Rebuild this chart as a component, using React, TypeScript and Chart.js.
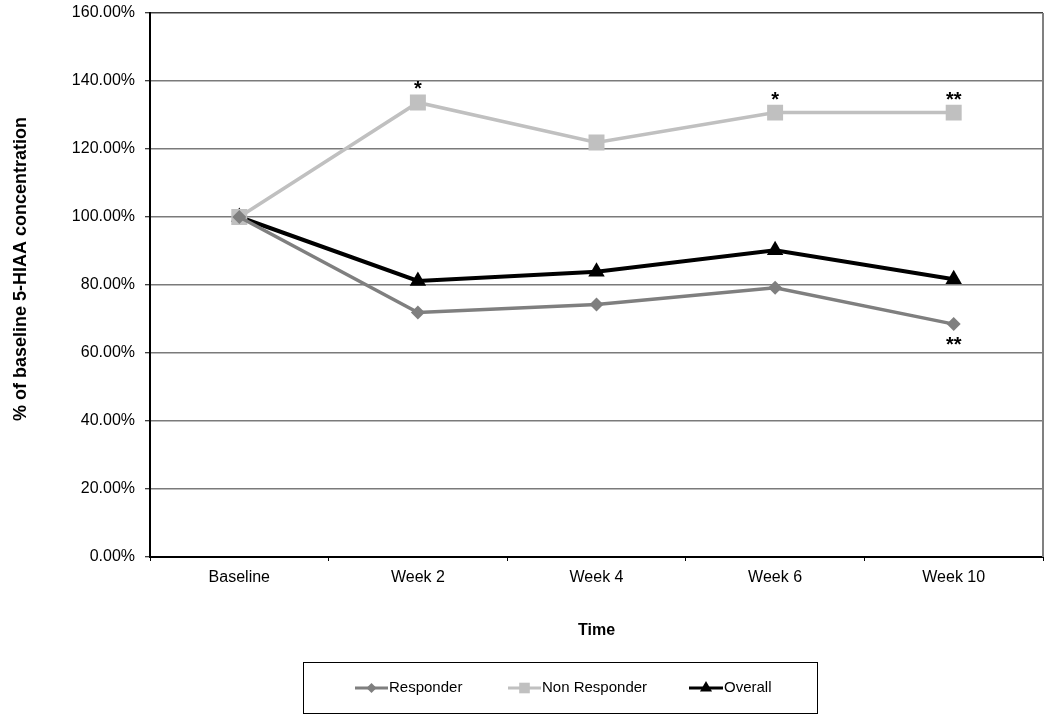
import React, { useEffect, useRef } from "react";
import { Chart, registerables } from "chart.js";

Chart.register(...registerables);

const categories = ["Baseline", "Week 2", "Week 4", "Week 6", "Week 10"];
const responder = [100, 71.9, 74.3, 79.2, 68.5];
const nonResponder = [100, 133.7, 121.9, 130.7, 130.7];
const overall = [100, 81.2, 83.9, 90.2, 81.7];
const yTicks = [0, 20, 40, 60, 80, 100, 120, 140, 160];

// significance markers: dataset index, point index, text, above/below
const starDataset = [1, 1, 1, 0];
const starIndex = [1, 3, 4, 4];
const starText = ["*", "*", "**", "**"];
const starAbove = [true, true, true, false];

const yTitle = "% of baseline 5-HIAA concentration";
const xTitle = "Time";

const FONT = "'Liberation Sans', Arial, sans-serif";

function drawMarker(ctx: CanvasRenderingContext2D, style: string, x: number, y: number, r: number) {
  ctx.beginPath();
  if (style === "rect") {
    const s = Math.SQRT1_2 * r;
    ctx.rect(x - s, y - s, 2 * s, 2 * s);
  } else if (style === "rectRot") {
    ctx.moveTo(x, y - r);
    ctx.lineTo(x + r, y);
    ctx.lineTo(x, y + r);
    ctx.lineTo(x - r, y);
    ctx.closePath();
  } else {
    const a = (Math.PI * 2) / 3;
    ctx.moveTo(x, y - r);
    ctx.lineTo(x + Math.sin(a) * r, y - Math.cos(a) * r);
    ctx.lineTo(x + Math.sin(2 * a) * r, y - Math.cos(2 * a) * r);
    ctx.closePath();
  }
  ctx.fill();
}

const extrasPlugin = {
  id: "extras",
  afterDraw(chart: any) {
    const { ctx, chartArea, scales } = chart;
    ctx.save();
    // right border
    ctx.strokeStyle = "#808080";
    ctx.lineWidth = 2;
    ctx.beginPath();
    ctx.moveTo(chartArea.right, chartArea.top);
    ctx.lineTo(chartArea.right, chartArea.bottom);
    ctx.stroke();

    // y title
    ctx.save();
    ctx.translate(21, 269);
    ctx.rotate(-Math.PI / 2);
    ctx.font = `bold 18px ${FONT}`;
    ctx.fillStyle = "#000";
    ctx.textAlign = "center";
    ctx.textBaseline = "middle";
    ctx.fillText(yTitle, 0, 0);
    ctx.restore();

    // asterisks
    ctx.font = `bold 20px ${FONT}`;
    ctx.fillStyle = "#000";
    ctx.textAlign = "center";
    ctx.textBaseline = "alphabetic";
    for (let i = 0; i < starText.length; i++) {
      const ds = chart.data.datasets[starDataset[i]];
      const v = ds.data[starIndex[i]];
      const px = scales.x.getPixelForValue(starIndex[i]);
      const py = scales.y.getPixelForValue(v);
      const by = starAbove[i] ? py - 7 : py + 27;
      ctx.fillText(starText[i], px, by);
    }

    // legend box
    const lx = 303, ly = 662, lw = 514, lh = 51;
    ctx.strokeStyle = "#000";
    ctx.lineWidth = 1;
    ctx.strokeRect(lx + 0.5, ly + 0.5, lw, lh);
    const cy = 688;
    const items = [
      { x0: 355, x1: 388, tx: 389 },
      { x0: 508, x1: 541, tx: 542 },
      { x0: 689, x1: 723, tx: 724 },
    ];
    chart.data.datasets.forEach((ds: any, i: number) => {
      const it = items[i];
      ctx.strokeStyle = ds.borderColor;
      ctx.lineWidth = 3;
      ctx.beginPath();
      ctx.moveTo(it.x0, cy);
      ctx.lineTo(it.x1, cy);
      ctx.stroke();
      ctx.fillStyle = ds.pointBackgroundColor;
      const mr = ds.pointStyle === "rect" ? 7.5 : ds.pointStyle === "triangle" ? 7 : 5;
      drawMarker(ctx, ds.pointStyle, (it.x0 + it.x1) / 2, cy, mr);
      ctx.fillStyle = "#000";
      ctx.font = `15px ${FONT}`;
      ctx.textAlign = "left";
      ctx.textBaseline = "middle";
      ctx.fillText(ds.label, it.tx, cy);
    });
    ctx.restore();
  },
};

export default function App() {
  const ref = useRef<HTMLCanvasElement>(null);
  useEffect(() => {
    if (!ref.current) return;
    const chart = new Chart(ref.current, {
      type: "line",
      data: {
        labels: categories,
        datasets: [
          {
            label: "Responder",
            data: responder,
            borderColor: "#7f7f7f",
            backgroundColor: "#7f7f7f",
            pointBackgroundColor: "#7f7f7f",
            pointBorderColor: "#7f7f7f",
            borderWidth: 3.5,
            pointStyle: "rectRot",
            pointRadius: 7,
            pointBorderWidth: 0,
          },
          {
            label: "Non Responder",
            data: nonResponder,
            borderColor: "#c0c0c0",
            backgroundColor: "#c0c0c0",
            pointBackgroundColor: "#c0c0c0",
            pointBorderColor: "#c0c0c0",
            borderWidth: 3.5,
            pointStyle: "rect",
            pointRadius: 11.3,
            pointBorderWidth: 0,
          },
          {
            label: "Overall",
            data: overall,
            borderColor: "#000000",
            backgroundColor: "#000000",
            pointBackgroundColor: "#000000",
            pointBorderColor: "#000000",
            borderWidth: 4,
            pointStyle: "triangle",
            pointRadius: 9.5,
            pointBorderWidth: 0,
          },
        ],
      } as any,
      options: {
        animation: false,
        responsive: false,
        devicePixelRatio: 1,
        layout: { autoPadding: false, padding: { left: 12, top: 13, right: 7, bottom: 80 } },
        plugins: {
          legend: { display: false },
          tooltip: { enabled: false },
        },
        elements: { line: { tension: 0 } },
        scales: {
          x: {
            type: "category",
            offset: true,
            grid: {
              display: true,
              drawOnChartArea: false,
              offset: true,
              tickLength: 4,
              tickColor: "#000",
              tickWidth: 1,
            },
            border: { display: true, color: "#000", width: 2 },
            ticks: {
              color: "#000",
              padding: 7,
              font: { family: FONT, size: 16 },
              maxRotation: 0,
            },
            title: {
              display: true,
              text: xTitle,
              color: "#000",
              font: { family: FONT, size: 16, weight: "bold" },
              padding: { top: 0, bottom: 0 },
            },
            afterFit(scale: any) {
              scale.height = 83;
              scale.paddingLeft = 0;
              scale.paddingRight = 0;
            },
          },
          y: {
            min: 0,
            max: 160,
            afterBuildTicks(scale: any) {
              scale.ticks = yTicks.map((v) => ({ value: v }));
            },
            grid: {
              color: (c: any) => (c.tick && c.tick.value === 160 ? "#404040" : "#7a7a7a"),
              lineWidth: 1.5,
              tickLength: 5,
              tickColor: "#000",
              tickWidth: 1,
            },
            border: { display: true, color: "#000", width: 2 },
            ticks: {
              color: "#000",
              padding: 10,
              font: { family: FONT, size: 16 },
              callback: (v: any) => `${Number(v).toFixed(2)}%`,
            },
            afterFit(scale: any) {
              scale.width = 138;
              scale.paddingTop = 0;
              scale.paddingBottom = 0;
            },
          },
        },
      } as any,
      plugins: [extrasPlugin],
    });
    return () => chart.destroy();
  }, []);
  return (
    <div style={{ position: "fixed", left: 0, top: 0, width: 1050, height: 720, background: "#fff" }}>
      <canvas ref={ref} width={1050} height={720} style={{ width: 1050, height: 720 }} />
    </div>
  );
}
